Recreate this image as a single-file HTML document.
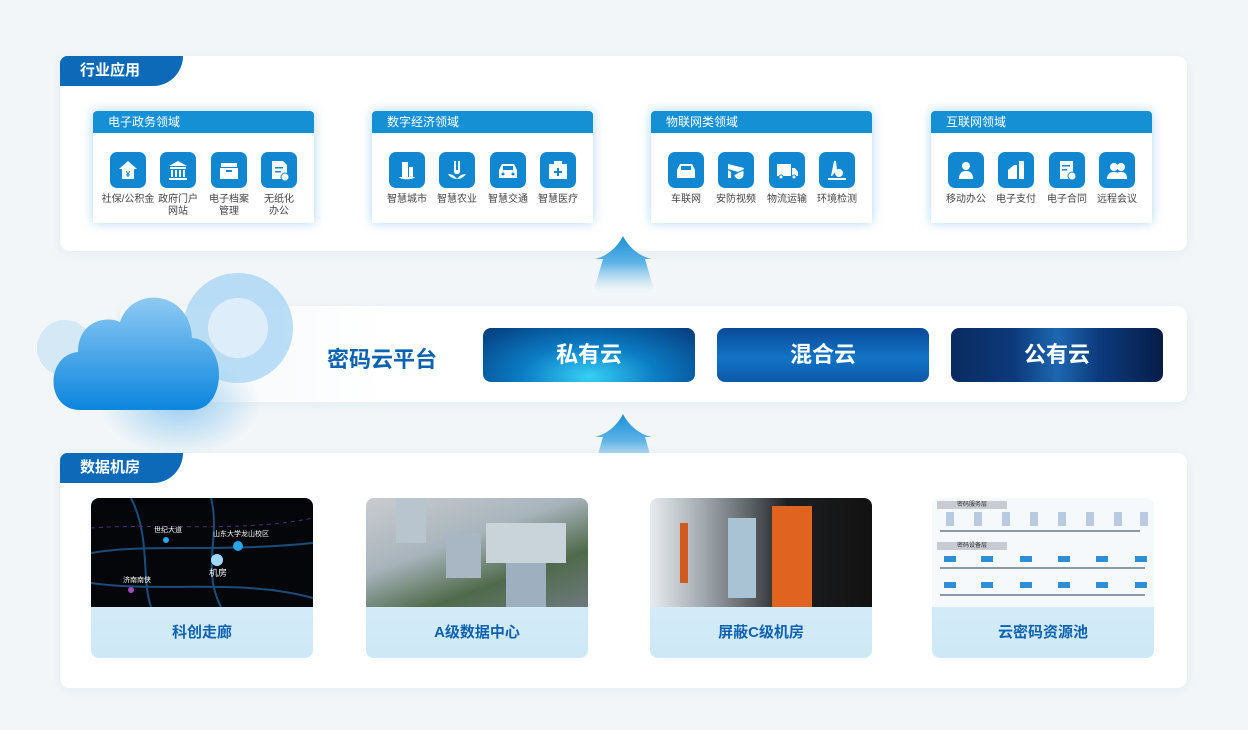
<!DOCTYPE html>
<html><head><meta charset="utf-8">
<style>
*{margin:0;padding:0;box-sizing:border-box}
body{width:1248px;height:730px;background:#f2f6f8;font-family:"Liberation Sans","Noto Sans CJK SC",sans-serif;position:relative;overflow:hidden}
.abs{position:absolute}
.panel{position:absolute;background:#fff;border-radius:10px;box-shadow:0 2px 10px rgba(150,180,200,.15)}
.tab{position:absolute;left:60px;width:123px;height:30px;background:#0d6ab8;border-radius:10px 0 40px 0;color:#fff;font-size:15px;font-weight:bold;line-height:30px;padding-left:20px}
.dom{position:absolute;top:111px;width:221px;height:112px;background:#fff;box-shadow:0 0 10px rgba(30,140,220,.35)}
.dom .h{height:22px;background:#1590d5;color:#fff;font-size:12px;line-height:22px;padding-left:15px;border-radius:4px 4px 0 0}
.ic{position:absolute;top:41px;width:36px;height:36px;border-radius:7px;background:#1187d1}
.ic svg{width:36px;height:36px}
.lb{position:absolute;top:83px;width:56px;text-align:center;font-size:10px;line-height:12px;color:#444}
.btn{position:absolute;top:328px;width:212px;height:54px;border-radius:8px;color:#fff;font-size:22px;font-weight:bold;text-align:center;line-height:54px}
.card{position:absolute;top:498px;width:222px;height:160px;border-radius:8px;overflow:hidden;background:linear-gradient(#e2f3fc,#cde8f6)}
.card .img{height:109px;position:relative;overflow:hidden}
.card .t{height:51px;line-height:51px;text-align:center;color:#0d62b0;font-size:15px;font-weight:bold}
</style></head><body>

<div class="panel" style="left:60px;top:56px;width:1127px;height:195px"></div>
<div class="tab" style="top:56px">行业应用</div>

<div class="dom" style="left:93px"><div class="h">电子政务领域</div>
<div class="ic" style="left:17px"><svg viewBox="0 0 36 36"><path d="M18 9l9 8h-3v10H12V17H9z" fill="#fff"/><text x="18" y="25" font-size="8" fill="#1187d1" text-anchor="middle" font-weight="bold">¥</text></svg></div>
<div class="ic" style="left:67px"><svg viewBox="0 0 36 36"><path d="M18 9l9 5H9z M10 15h16v2H10z M11 18h2v7h-2z M15 18h2v7h-2z M19 18h2v7h-2z M23 18h2v7h-2z M9 26h18v2H9z" fill="#fff"/></svg></div>
<div class="ic" style="left:118px"><svg viewBox="0 0 36 36"><path d="M10 11h16v4H10z M9 16h18v11H9z" fill="#fff"/><rect x="15" y="18" width="6" height="2" fill="#1187d1"/></svg></div>
<div class="ic" style="left:168px"><svg viewBox="0 0 36 36"><path d="M11 9h11l4 4v14H11z" fill="#fff"/><rect x="14" y="15" width="8" height="1.5" fill="#1187d1"/><rect x="14" y="19" width="6" height="1.5" fill="#1187d1"/><circle cx="24" cy="25" r="4" fill="#fff" stroke="#1187d1"/></svg></div>
<div class="lb" style="left:7px">社保/公积金</div><div class="lb" style="left:57px">政府门户<br>网站</div><div class="lb" style="left:108px">电子档案<br>管理</div><div class="lb" style="left:158px">无纸化<br>办公</div>
</div>

<div class="dom" style="left:372px"><div class="h">数字经济领域</div>
<div class="ic" style="left:17px"><svg viewBox="0 0 36 36"><path d="M13 10h6v16h-6z M20 15h4v11h-4z M10 25h16c-2 3-14 3-16 0z" fill="#fff"/></svg></div>
<div class="ic" style="left:67px"><svg viewBox="0 0 36 36"><path d="M15 9h2v9h2V9h2v10c0 2-1 3-3 3s-3-1-3-3z M9 22c4 0 7 2 9 5 2-3 5-5 9-5-2 3-5 5-9 5s-7-2-9-5z" fill="#fff"/></svg></div>
<div class="ic" style="left:118px"><svg viewBox="0 0 36 36"><path d="M12 12h12l3 6v8H9v-8z" fill="#fff"/><rect x="13" y="14" width="10" height="4" fill="#1187d1"/><circle cx="13" cy="22" r="1.5" fill="#1187d1"/><circle cx="23" cy="22" r="1.5" fill="#1187d1"/></svg></div>
<div class="ic" style="left:168px"><svg viewBox="0 0 36 36"><path d="M14 9h8v3h5v15H9V12h5z" fill="#fff"/><path d="M17 16h2v3h3v2h-3v3h-2v-3h-3v-2h3z" fill="#1187d1"/></svg></div>
<div class="lb" style="left:7px">智慧城市</div><div class="lb" style="left:57px">智慧农业</div><div class="lb" style="left:108px">智慧交通</div><div class="lb" style="left:158px">智慧医疗</div>
</div>

<div class="dom" style="left:651px"><div class="h">物联网类领域</div>
<div class="ic" style="left:17px"><svg viewBox="0 0 36 36"><path d="M12 12h12l3 6v8H9v-8z" fill="#fff"/><rect x="13" y="14" width="10" height="4" fill="#1187d1"/></svg></div>
<div class="ic" style="left:67px"><svg viewBox="0 0 36 36"><path d="M10 12l16 4-2 5-14-4z M10 18v8h3v-6z" fill="#fff"/><path d="M21 20l5-2v5c0 2-2 4-5 5-3-1-5-3-5-5z" fill="#fff" stroke="#1187d1"/></svg></div>
<div class="ic" style="left:118px"><svg viewBox="0 0 36 36"><path d="M8 12h14v12H8z M23 16h3l3 4v4h-6z" fill="#fff"/><circle cx="12" cy="25" r="2" fill="#fff" stroke="#1187d1"/><circle cx="25" cy="25" r="2" fill="#fff" stroke="#1187d1"/></svg></div>
<div class="ic" style="left:168px"><svg viewBox="0 0 36 36"><path d="M15 9h2l1 9-5 6h-1z M20 17a4 4 0 1 1 0 8a4 4 0 0 1 0-8z M9 26h18v2H9z" fill="#fff"/></svg></div>
<div class="lb" style="left:7px">车联网</div><div class="lb" style="left:57px">安防视频</div><div class="lb" style="left:108px">物流运输</div><div class="lb" style="left:158px">环境检测</div>
</div>

<div class="dom" style="left:931px"><div class="h">互联网领域</div>
<div class="ic" style="left:17px"><svg viewBox="0 0 36 36"><circle cx="18" cy="14" r="4" fill="#fff"/><path d="M11 27c0-6 3-8 7-8s7 2 7 8z" fill="#fff"/></svg></div>
<div class="ic" style="left:67px"><svg viewBox="0 0 36 36"><path d="M21 9h5v18h-5z M10 18l6-5h3v14h-9z" fill="#fff"/></svg></div>
<div class="ic" style="left:118px"><svg viewBox="0 0 36 36"><path d="M11 9h13v18H11z" fill="#fff"/><rect x="13" y="13" width="8" height="1.5" fill="#1187d1"/><rect x="13" y="17" width="5" height="1.5" fill="#1187d1"/><circle cx="23" cy="24" r="4" fill="#fff" stroke="#1187d1"/></svg></div>
<div class="ic" style="left:168px"><svg viewBox="0 0 36 36"><circle cx="15" cy="15" r="4" fill="#fff"/><circle cx="22" cy="15" r="4" fill="#fff"/><path d="M8 27c0-5 3-7 7-7s7 2 7 7z M15 27c0-5 3-7 7-7s6 2 6 7z" fill="#fff"/></svg></div>
<div class="lb" style="left:7px">移动办公</div><div class="lb" style="left:57px">电子支付</div><div class="lb" style="left:108px">电子合同</div><div class="lb" style="left:158px">远程会议</div>
</div>

<svg class="abs" style="left:590px;top:234px" width="68" height="58"><defs><linearGradient id="ag" x1="0" y1="0" x2="0" y2="1"><stop offset="0" stop-color="#1a8fd6"/><stop offset=".5" stop-color="#5fb3e6"/><stop offset="1" stop-color="#8cc8ee" stop-opacity="0"/></linearGradient></defs><path d="M33 2 C28 12 18 22 5 25 H13 L4 56 H64 L55 25 H62 C48 22 38 12 33 2Z" fill="url(#ag)"/></svg>
<svg class="abs" style="left:590px;top:412px" width="68" height="58"><path d="M33 2 C28 12 18 22 5 25 H13 L4 56 H64 L55 25 H62 C48 22 38 12 33 2Z" fill="url(#ag)"/></svg>

<div class="panel" style="left:120px;top:306px;width:1067px;height:96px;background:linear-gradient(90deg,rgba(255,255,255,0),#fff 25%)"></div>
<svg class="abs" style="left:20px;top:260px" width="300" height="200">
<defs><linearGradient id="cg" x1="0" y1="0" x2="0" y2="1"><stop offset="0" stop-color="#8fcaf3"/><stop offset="1" stop-color="#0a86de"/></linearGradient>
<radialGradient id="gl" cx=".5" cy=".5" r=".5"><stop offset="0" stop-color="#4aa8ec" stop-opacity=".5"/><stop offset="1" stop-color="#4aa8ec" stop-opacity="0"/></radialGradient></defs>
<ellipse cx="160" cy="145" rx="80" ry="50" fill="url(#gl)"/>
<circle cx="218" cy="68" r="55" fill="#a9d6f4" opacity=".8"/>
<circle cx="218" cy="68" r="30" fill="#e6f3fb" opacity=".8"/>
<circle cx="45" cy="88" r="28" fill="#c9e3f5" opacity=".7"/>
<path d="M60 150 C25 150 25 95 58 92 C58 62 85 55 100 62 C112 25 170 30 172 78 C208 80 208 150 172 150 Z" fill="url(#cg)"/>
</svg>
<div class="abs" style="left:327px;top:342px;font-size:22px;font-weight:bold;color:#0d62b0">密码云平台</div>
<div class="btn" style="left:483px;background:radial-gradient(ellipse at 50% 90%,#37d0f5,#0b7cc4 45%,#063a7a 100%)">私有云</div>
<div class="btn" style="left:717px;background:linear-gradient(180deg,#0a4a98,#1274c6 55%,#0c58a8)">混合云</div>
<div class="btn" style="left:951px;background:linear-gradient(90deg,#0a2a60,#0c3a7c 30%,#1d67b0 50%,#0c3a7c 70%,#061d48)">公有云</div>

<div class="panel" style="left:60px;top:453px;width:1127px;height:235px"></div>
<div class="tab" style="top:453px">数据机房</div>

<div class="card" style="left:91px"><div class="img" style="background:#05060a">
<svg width="222" height="109"><g stroke="#1a4e7a" stroke-width="2" fill="none"><path d="M0 55 C60 45 120 55 222 45"/><path d="M40 0 C60 40 50 80 60 109"/><path d="M0 85 C70 95 150 80 222 100"/><path d="M120 0 C130 40 110 70 130 109"/></g><path d="M0 30 C60 25 150 35 222 20" stroke="#5a2a7a" stroke-dasharray="4 4" fill="none"/><circle cx="75" cy="42" r="3" fill="#28a4e8"/><circle cx="147" cy="48" r="5" fill="#28a4e8"/><circle cx="126" cy="62" r="6" fill="#9fd8f8"/><circle cx="40" cy="92" r="3" fill="#a24ac0"/>
<text x="63" y="34" font-size="7" fill="#fff">世纪大道</text><text x="122" y="38" font-size="7" fill="#fff">山东大学龙山校区</text><text x="118" y="78" font-size="9" fill="#fff">机房</text><text x="32" y="84" font-size="7" fill="#fff">济南南侠</text></svg></div><div class="t">科创走廊</div></div>

<div class="card" style="left:366px"><div class="img" style="background:linear-gradient(160deg,#c9ccd0 0%,#a8b4bc 40%,#4f6a4a 70%,#6e7a7e 100%)">
<div class="abs" style="left:30px;top:0;width:30px;height:45px;background:#b8c4ce"></div><div class="abs" style="left:80px;top:35px;width:35px;height:45px;background:#a9b7c4"></div><div class="abs" style="left:120px;top:25px;width:80px;height:40px;background:#c9d3da"></div><div class="abs" style="left:140px;top:65px;width:40px;height:44px;background:#9eb0bf"></div></div><div class="t">A级数据中心</div></div>

<div class="card" style="left:650px"><div class="img" style="background:linear-gradient(90deg,#e8ecef 0%,#9ea5ab 25%,#5d6266 45%,#1e1f21 62%,#111 100%)">
<div class="abs" style="left:122px;top:8px;width:40px;height:101px;background:#e0641f"></div><div class="abs" style="left:78px;top:20px;width:28px;height:80px;background:#a9c3d4"></div><div class="abs" style="left:30px;top:25px;width:8px;height:60px;background:#d35a1e"></div></div><div class="t">屏蔽C级机房</div></div>

<div class="card" style="left:932px"><div class="img" style="background:#f5f9fb">
<div class="abs" style="left:5px;top:3px;width:70px;height:8px;background:#c8ccd2;font-size:6px;line-height:8px;padding-left:20px;color:#333">密码服务层</div>
<div class="abs" style="left:5px;top:44px;width:70px;height:8px;background:#c8ccd2;font-size:6px;line-height:8px;padding-left:20px;color:#333">密码设备层</div>
<svg class="abs" style="left:0;top:0" width="222" height="109"><g fill="#b9cbe0"><rect x="14" y="14" width="8" height="14"/><rect x="42" y="14" width="8" height="14"/><rect x="70" y="14" width="8" height="14"/><rect x="98" y="14" width="8" height="14"/><rect x="126" y="14" width="8" height="14"/><rect x="154" y="14" width="8" height="14"/><rect x="182" y="14" width="8" height="14"/><rect x="208" y="14" width="8" height="14"/></g><g fill="#2f8ed4"><rect x="12" y="58" width="12" height="6"/><rect x="49" y="58" width="12" height="6"/><rect x="88" y="58" width="12" height="6"/><rect x="126" y="58" width="12" height="6"/><rect x="164" y="58" width="12" height="6"/><rect x="203" y="58" width="12" height="6"/><rect x="12" y="84" width="12" height="6"/><rect x="49" y="84" width="12" height="6"/><rect x="88" y="84" width="12" height="6"/><rect x="126" y="84" width="12" height="6"/><rect x="164" y="84" width="12" height="6"/><rect x="203" y="84" width="12" height="6"/></g><g fill="#8a98a8"><rect x="8" y="32" width="200" height="2"/><rect x="8" y="69" width="205" height="2"/><rect x="8" y="96" width="205" height="2"/></g></svg></div><div class="t">云密码资源池</div></div>

</body></html>
